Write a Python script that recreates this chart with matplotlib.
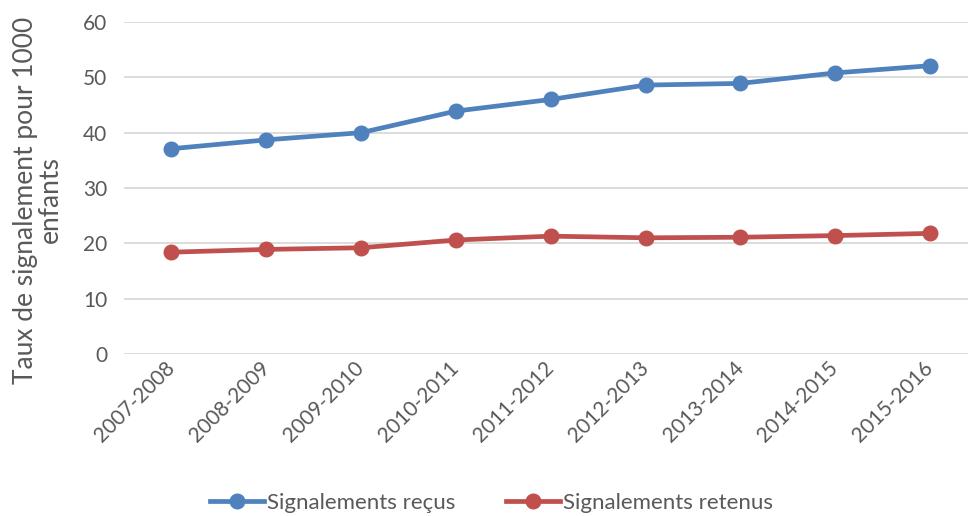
import matplotlib
matplotlib.use("Agg")
import matplotlib.pyplot as plt
from matplotlib.lines import Line2D

categories = ["2007-2008", "2008-2009", "2009-2010", "2010-2011", "2011-2012",
              "2012-2013", "2013-2014", "2014-2015", "2015-2016"]
recus = [37.1, 38.7, 40.0, 43.9, 46.0, 48.6, 48.9, 50.8, 52.1]
retenus = [18.4, 18.9, 19.2, 20.6, 21.3, 21.0, 21.1, 21.4, 21.8]
series_names = ["Signalements reçus", "Signalements retenus"]
yticks = [0, 10, 20, 30, 40, 50, 60]

plt.rcParams['font.family'] = ['Lato', 'DejaVu Sans']
text_color = "#595959"
blue = "#4F81BD"
red = "#C0504D"
lw = 3.4
ms = 10.5

fig = plt.figure(figsize=(9.68, 5.16), dpi=100)
ax = fig.add_axes([124/968, 1 - 354/516, 1 - 124/968, (354 - 22)/516])

x = list(range(len(categories)))
ax.plot(x, recus, color=blue, lw=lw, marker='o', markersize=ms, solid_capstyle='round', zorder=3)
ax.plot(x, retenus, color=red, lw=lw, marker='o', markersize=ms, solid_capstyle='round', zorder=3)

ax.set_xlim(-0.5, 8.4)
ax.set_ylim(0, 60)
ax.set_yticks(yticks)
ax.set_xticks(x)
ax.set_xticklabels(categories, rotation=45, ha='right', va='center', rotation_mode='anchor')
ax.grid(axis='y', color='#D9D9D9', lw=1.3)
ax.set_axisbelow(True)
for s in ax.spines.values():
    s.set_visible(False)
ax.tick_params(axis='both', length=0, labelsize=15, labelcolor=text_color)
ax.tick_params(axis='y', pad=12)
ax.tick_params(axis='x', pad=8)

ax.set_ylabel("Taux de signalement pour 1000\nenfants", fontsize=19, color=text_color,
              linespacing=1.0)
ax.yaxis.set_label_coords(-0.072, 0.464)

handles = [Line2D([], [], color=blue, lw=lw, marker='o', markersize=ms),
           Line2D([], [], color=red, lw=lw, marker='o', markersize=ms)]
fig.legend(handles, series_names, loc='lower center', bbox_to_anchor=(0.508, -0.032),
           ncol=2, frameon=False, fontsize=16, labelcolor=text_color,
           handlelength=2.4, handletextpad=0.15, columnspacing=2.3)

fig.savefig("out.png", dpi=100)
